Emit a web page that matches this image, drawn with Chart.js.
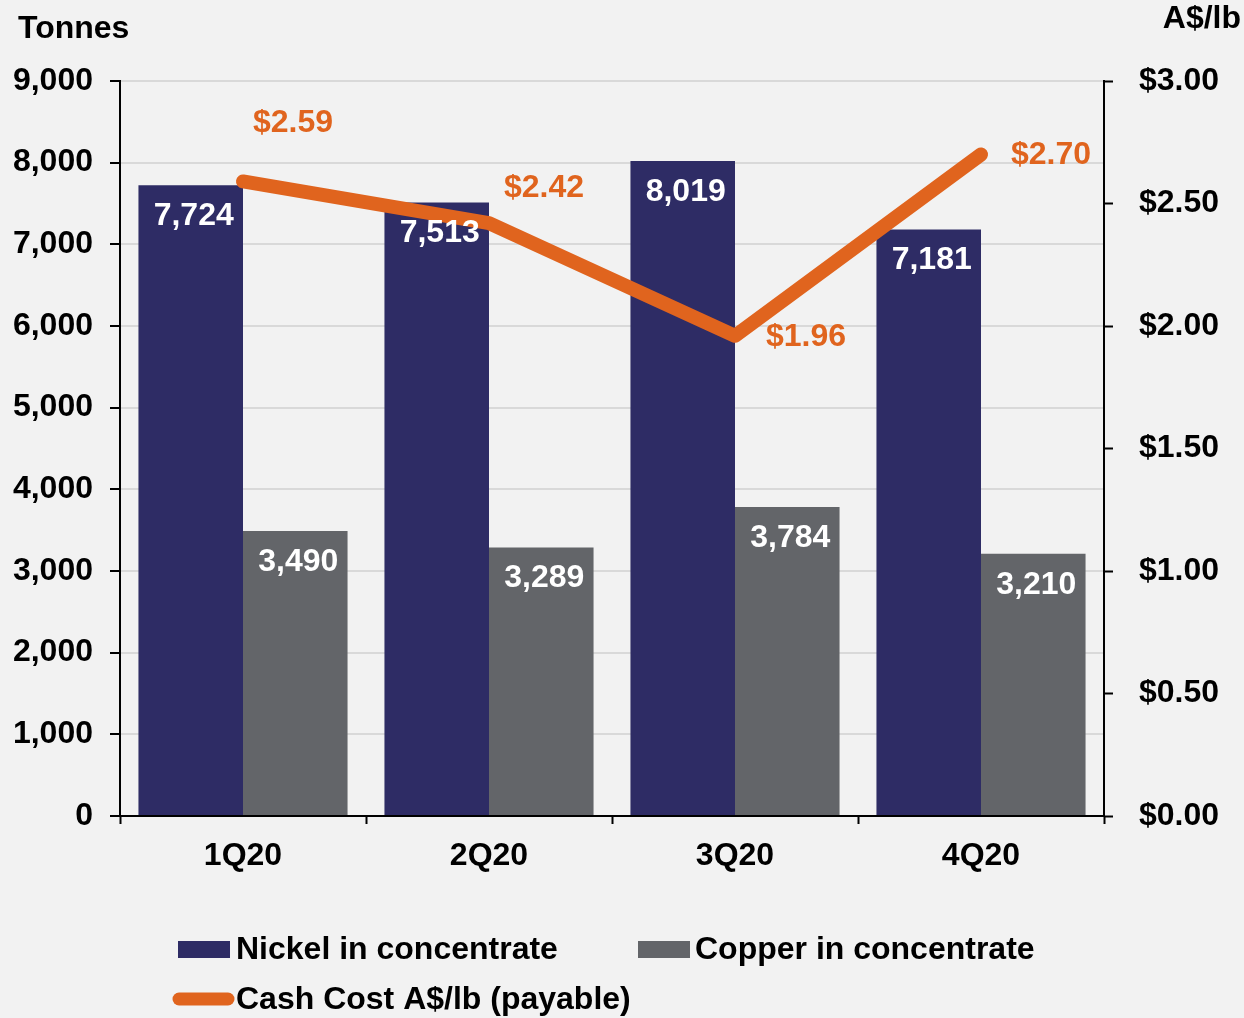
<!DOCTYPE html>
<html>
<head>
<meta charset="utf-8">
<script src="https://cdn.jsdelivr.net/npm/chart.js@4.4.1/dist/chart.umd.min.js"></script>
<style>
  html, body { margin: 0; padding: 0; background: #f2f2f2; }
  #wrap { width: 1244px; height: 1018px; position: relative; }
</style>
</head>
<body>
<div id="wrap"><canvas id="chart"></canvas></div>
<script>
const quarters = ['1Q20', '2Q20', '3Q20', '4Q20'];
const nickel = [7724, 7513, 8019, 7181];
const copper = [3490, 3289, 3784, 3210];
const cashCost = [2.59, 2.42, 1.96, 2.70];
const tonneTicks = [0, 1000, 2000, 3000, 4000, 5000, 6000, 7000, 8000, 9000];
const costTicks = [0, 0.5, 1, 1.5, 2, 2.5, 3];

const NAVY = '#2e2c65';
const GREY = '#636569';
const ORANGE = '#e0641e';
const FONT = '"Liberation Sans", Arial, sans-serif';

// label offsets for the cash cost points (dx, dy from point)
const costLabelOffsets = [[50, -58], [55, -35], [71, 1], [70, 1]];

const labelsPlugin = {
  id: 'labelsPlugin',
  afterDatasetsDraw(chart) {
    const ctx = chart.ctx;
    ctx.save();
    ctx.font = 'bold 32px ' + FONT;
    ctx.textAlign = 'center';
    ctx.textBaseline = 'middle';

    // bar values, white, inside the top of each bar
    [1, 2].forEach(i => {
      const meta = chart.getDatasetMeta(i);
      const data = chart.data.datasets[i].data;
      meta.data.forEach((bar, j) => {
        ctx.fillStyle = '#ffffff';
        ctx.fillText(data[j].toLocaleString('en-US'), bar.x + 3, bar.y + 31);
      });
    });

    // cash cost values
    const lineMeta = chart.getDatasetMeta(0);
    lineMeta.data.forEach((pt, j) => {
      const off = costLabelOffsets[j];
      ctx.fillStyle = ORANGE;
      ctx.fillText('$' + cashCost[j].toFixed(2), pt.x + off[0], pt.y + off[1]);
    });

    // axis titles
    ctx.fillStyle = '#000';
    ctx.textAlign = 'left';
    ctx.fillText('Tonnes', 18, 29);
    ctx.textAlign = 'right';
    ctx.fillText('A$/lb', 1241, 19);

    // legend
    ctx.textAlign = 'left';
    ctx.fillStyle = NAVY;
    ctx.fillRect(178, 941, 52, 17);
    ctx.fillStyle = '#000';
    ctx.fillText('Nickel in concentrate', 236, 950);
    ctx.fillStyle = GREY;
    ctx.fillRect(638, 941, 52, 17);
    ctx.fillStyle = '#000';
    ctx.fillText('Copper in concentrate', 695, 950);
    ctx.strokeStyle = ORANGE;
    ctx.lineWidth = 13;
    ctx.lineCap = 'round';
    ctx.beginPath();
    ctx.moveTo(179, 999);
    ctx.lineTo(228, 999);
    ctx.stroke();
    ctx.fillStyle = '#000';
    ctx.fillText('Cash Cost A$/lb (payable)', 236, 1000);
    ctx.restore();
  }
};

new Chart(document.getElementById('chart'), {
  data: {
    labels: quarters,
    datasets: [
      {
        type: 'line',
        label: 'Cash Cost A$/lb (payable)',
        data: cashCost,
        yAxisID: 'y1',
        borderColor: ORANGE,
        backgroundColor: ORANGE,
        borderWidth: 14,
        borderCapStyle: 'round',
        borderJoinStyle: 'round',
        pointRadius: 0,
        tension: 0,
        order: 0
      },
      {
        type: 'bar',
        label: 'Nickel in concentrate',
        data: nickel,
        yAxisID: 'y',
        backgroundColor: NAVY,
        categoryPercentage: 0.85,
        barPercentage: 1.0,
        order: 1
      },
      {
        type: 'bar',
        label: 'Copper in concentrate',
        data: copper,
        yAxisID: 'y',
        backgroundColor: GREY,
        categoryPercentage: 0.85,
        barPercentage: 1.0,
        order: 2
      }
    ]
  },
  options: {
    responsive: true,
    maintainAspectRatio: false,
    animation: false,
    layout: { padding: { top: 81, left: 0, right: 0, bottom: 0 } },
    plugins: {
      legend: { display: false },
      tooltip: { enabled: false }
    },
    scales: {
      x: {
        offset: true,
        grid: {
          offset: true,
          drawOnChartArea: false,
          tickLength: 8,
          tickColor: '#000',
          tickWidth: 2
        },
        border: { color: '#000', width: 2 },
        ticks: {
          color: '#000',
          padding: 13,
          font: { family: FONT, size: 32, weight: 'bold' }
        },
        afterFit(scale) { scale.height = 202; }
      },
      y: {
        position: 'left',
        min: 0,
        max: 9000,
        afterBuildTicks(scale) { scale.ticks = tonneTicks.map(v => ({ value: v })); },
        grid: {
          color: '#d9d9d9',
          lineWidth: 2,
          tickLength: 10,
          tickColor: '#000',
          tickWidth: 2
        },
        border: { color: '#000', width: 2 },
        ticks: {
          color: '#000',
          padding: 17,
          font: { family: FONT, size: 32, weight: 'bold' },
          callback: v => v.toLocaleString('en-US')
        },
        afterFit(scale) { scale.width = 120; }
      },
      y1: {
        position: 'right',
        min: 0,
        max: 3,
        afterBuildTicks(scale) { scale.ticks = costTicks.map(v => ({ value: v })); },
        grid: {
          drawOnChartArea: false,
          tickLength: 9,
          tickColor: '#000',
          tickWidth: 2
        },
        border: { color: '#000', width: 2 },
        ticks: {
          color: '#000',
          padding: 26,
          font: { family: FONT, size: 32, weight: 'bold' },
          callback: v => '$' + Number(v).toFixed(2)
        },
        afterFit(scale) { scale.width = 140; }
      }
    }
  },
  plugins: [labelsPlugin]
});
</script>
</body>
</html>
